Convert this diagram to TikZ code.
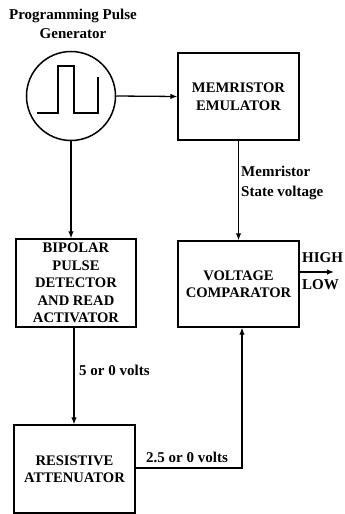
\documentclass[tikz,border=0pt]{standalone}
\usepackage{fontspec}
\setmainfont{Liberation Serif}
\usetikzlibrary{arrows.meta}
\begin{document}
\begin{tikzpicture}[x=1pt,y=-1pt,
  blk/.style={draw,line width=1.3pt,minimum width=121pt,align=center,font=\bfseries\fontsize{14.6}{17.5}\selectfont,inner sep=0pt},
  lbl/.style={font=\bfseries\fontsize{15}{19.5}\selectfont,inner sep=0pt,align=left},
  conn/.style={line width=1.3pt},
  arr/.style={conn,-{Latex[length=7pt,width=5.5pt]}}]
\useasboundingbox (0,0) rectangle (345,514);
\node[lbl,align=center] (title) at (73,24) {Programming Pulse\\Generator};
\node[draw,circle,line width=1.5pt,minimum size=89pt,inner sep=0pt] (gen) at (71,96) {};
\draw[line width=1.2pt] (37,113) -- (58,113) -- (58,66) -- (74,66) -- (74,113) -- (98,113) -- (98,77);
\node[blk,minimum height=87pt] (mem) at (238.5,96.5) {MEMRISTOR\\EMULATOR};
\node[blk,minimum height=86pt] (cmp) at (238.5,284) {VOLTAGE\\COMPARATOR};
\node[blk,minimum width=120pt,minimum height=88pt] (bip) at (76,283) {BIPOLAR\\PULSE\\DETECTOR\\AND READ\\ACTIVATOR};
\node[blk,minimum height=88pt] (res) at (74.5,469) {RESISTIVE\\ATTENUATOR};
\draw[arr] (gen.east) -- (mem.west);
\draw[arr] (gen.south) -- (gen.south |- bip.north);
\draw[arr] (mem.south) -- (mem.south |- cmp.north);
\node[lbl,anchor=west] (msv) at (241,183) {Memristor\\State voltage};
\coordinate (out) at (334,272);
\draw[arr] (cmp.east |- out) -- (out);
\node[lbl,anchor=west] (hi) at (302,258) {HIGH};
\node[lbl,anchor=west] (lo) at (302,285) {LOW};
\coordinate (bipb) at (74,327);
\draw[arr] (bip.south -| bipb) -- (bipb |- res.north);
\node[lbl,anchor=west] (five) at (79,370) {5 or 0 volts};
\coordinate (turn) at (242,468);
\draw[arr] (res.east |- turn) -- (turn) -- (turn |- cmp.south);
\node[lbl,anchor=west] (twofive) at (146,457) {2.5 or 0 volts};
\end{tikzpicture}
\end{document}
